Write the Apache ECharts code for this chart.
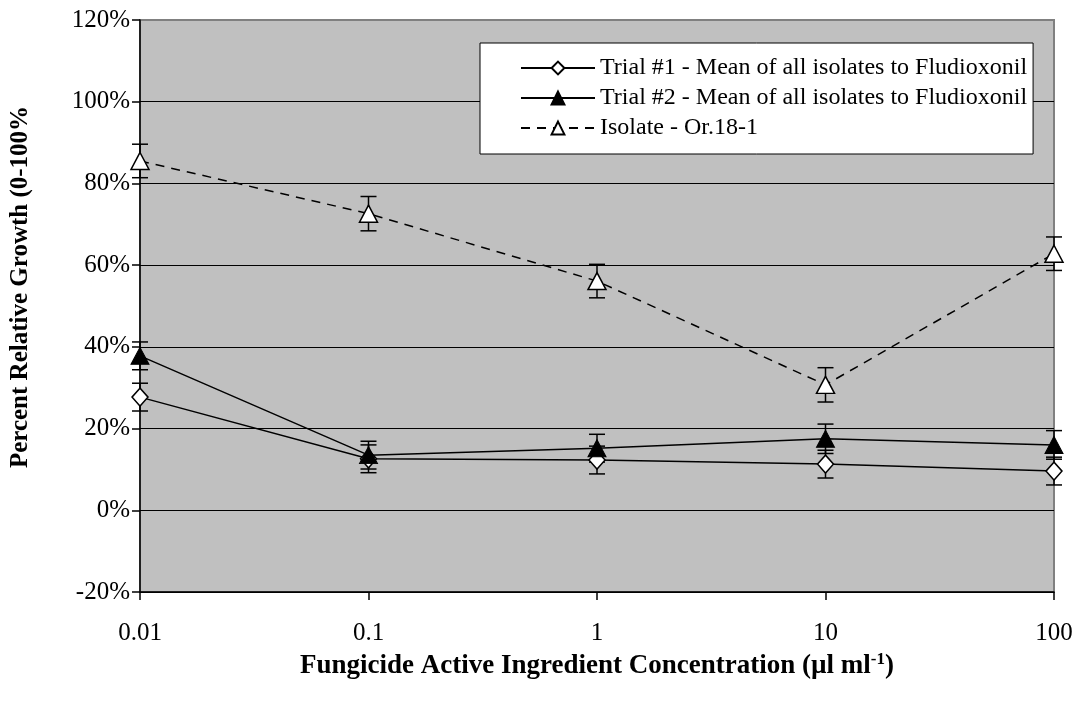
<!DOCTYPE html>
<html>
<head>
<meta charset="utf-8">
<script src="https://cdn.jsdelivr.net/npm/echarts@6/dist/echarts.min.js"></script>
<style>
  html, body { margin: 0; padding: 0; background: #ffffff; }
  #chart { width: 1083px; height: 707px; }
</style>
</head>
<body>
<div id="chart"></div>
<script>
// Fungicide concentrations (µl/ml), log scale
const concentrations = [0.01, 0.1, 1, 10, 100];
const xTickLabels = ['0.01', '0.1', '1', '10', '100'];

// Percent relative growth and standard errors
const trial1 = [27.7, 12.6, 12.3, 11.3, 9.6];
const trial1Err = [3.4, 3.4, 3.4, 3.4, 3.4];
const trial2 = [37.8, 13.5, 15.2, 17.5, 16.0];
const trial2Err = [3.4, 3.4, 3.4, 3.6, 3.5];
const isolate = [85.5, 72.6, 56.1, 30.7, 62.8];
const isolateErr = [4.1, 4.2, 4.1, 4.2, 4.1];

const seriesNames = [
  'Trial #1 - Mean of all isolates to Fludioxonil',
  'Trial #2 - Mean of all isolates to Fludioxonil',
  'Isolate - Or.18-1'
];

const FONT = '"Liberation Serif", "Times New Roman", serif';

function pairs(values) {
  return concentrations.map((c, i) => [c, values[i]]);
}
function errTriples(values, errs) {
  return concentrations.map((c, i) => [c, values[i], errs[i]]);
}

// vertical error bar with caps
function renderErrorBar(params, api) {
  const x = api.value(0), y = api.value(1), e = api.value(2);
  const top = api.coord([x, y + e]);
  const bot = api.coord([x, y - e]);
  const hw = 8;
  const style = { stroke: '#000', lineWidth: 1.5 };
  return {
    type: 'group',
    children: [
      { type: 'line', shape: { x1: top[0], y1: top[1], x2: bot[0], y2: bot[1] }, style },
      { type: 'line', shape: { x1: top[0] - hw, y1: top[1], x2: top[0] + hw, y2: top[1] }, style },
      { type: 'line', shape: { x1: bot[0] - hw, y1: bot[1], x2: bot[0] + hw, y2: bot[1] }, style }
    ]
  };
}

const chart = echarts.init(document.getElementById('chart'), null, { renderer: 'canvas' });

chart.setOption({
  animation: false,
  backgroundColor: '#ffffff',
  grid: {
    left: 140, right: 29, top: 20, bottom: 115,
    show: true,
    backgroundColor: '#c0c0c0',
    borderColor: '#808080',
    borderWidth: 2
  },
  legend: {
    orient: 'vertical',
    left: 480,
    top: 43,
    padding: [13, 6, 14, 40],
    itemGap: 6,
    itemWidth: 74,
    itemHeight: 16,
    backgroundColor: '#ffffff',
    borderColor: '#000000',
    borderWidth: 1,
    borderRadius: 0,
    textStyle: { fontFamily: FONT, fontSize: 24, color: '#000' },
    data: seriesNames
  },
  xAxis: {
    type: 'log',
    logBase: 10,
    min: 0.01,
    max: 100,
    axisLine: { show: true, onZero: false, lineStyle: { color: '#000', width: 1.5 } },
    axisTick: { show: true, length: 8, lineStyle: { color: '#000', width: 1.5 } },
    minorTick: { show: false },
    splitLine: { show: false },
    axisLabel: {
      fontFamily: FONT, fontSize: 25, color: '#000', margin: 29,
      formatter: function (v) {
        const idx = concentrations.findIndex(c => Math.abs(Math.log10(c) - Math.log10(v)) < 1e-6);
        return idx >= 0 ? xTickLabels[idx] : '';
      }
    },
    name: '{t|Fungicide Active Ingredient Concentration (µl ml}{s|-1}{t|)}',
    nameLocation: 'middle',
    nameGap: 57,
    nameTextStyle: {
      rich: {
        t: { fontFamily: FONT, fontSize: 27, fontWeight: 'bold', color: '#000' },
        s: { fontFamily: FONT, fontSize: 17, fontWeight: 'bold', color: '#000', verticalAlign: 'top', padding: [0, 0, 14, 0] }
      }
    }
  },
  yAxis: {
    type: 'value',
    min: -20,
    max: 120,
    interval: 20,
    axisLine: { show: true, lineStyle: { color: '#000', width: 1.5 } },
    axisTick: { show: true, length: 8, lineStyle: { color: '#000', width: 1.5 } },
    splitLine: { show: true, lineStyle: { color: ['#000', '#000', '#000', '#000', '#000', '#000', '#000', '#808080'], width: 1 } },
    axisLabel: {
      fontFamily: FONT, fontSize: 25, color: '#000', margin: 10,
      formatter: '{value}%'
    }
  },
  graphic: [{
    type: 'text',
    x: 21,
    y: 287,
    rotation: Math.PI / 2,
    style: {
      text: 'Percent Relative Growth (0-100%',
      fontFamily: FONT,
      fontSize: 25,
      fontWeight: 'bold',
      fill: '#000',
      textAlign: 'center',
      textVerticalAlign: 'middle'
    }
  }],
  series: [
    {
      name: seriesNames[0],
      type: 'line',
      data: pairs(trial1),
      symbol: 'diamond',
      symbolSize: [16, 18],
      z: 5,
      lineStyle: { color: '#000', width: 1.5 },
      itemStyle: { color: '#ffffff', borderColor: '#000', borderWidth: 1.5 }
    },
    {
      name: seriesNames[1],
      type: 'line',
      data: pairs(trial2),
      symbol: 'triangle',
      symbolSize: [18, 17],
      z: 5,
      lineStyle: { color: '#000', width: 1.5 },
      itemStyle: { color: '#000', borderColor: '#000', borderWidth: 1 }
    },
    {
      name: seriesNames[2],
      type: 'line',
      data: pairs(isolate),
      symbol: 'triangle',
      symbolSize: [18, 17],
      z: 5,
      lineStyle: { color: '#000', width: 1.5, type: [9, 7] },
      itemStyle: { color: '#ffffff', borderColor: '#000', borderWidth: 1.5 }
    },
    {
      type: 'custom', name: 'err1', renderItem: renderErrorBar,
      data: errTriples(trial1, trial1Err), z: 3, silent: true,
      encode: { x: 0, y: [1] }
    },
    {
      type: 'custom', name: 'err2', renderItem: renderErrorBar,
      data: errTriples(trial2, trial2Err), z: 3, silent: true,
      encode: { x: 0, y: [1] }
    },
    {
      type: 'custom', name: 'err3', renderItem: renderErrorBar,
      data: errTriples(isolate, isolateErr), z: 3, silent: true,
      encode: { x: 0, y: [1] }
    }
  ]
});
</script>
</body>
</html>
